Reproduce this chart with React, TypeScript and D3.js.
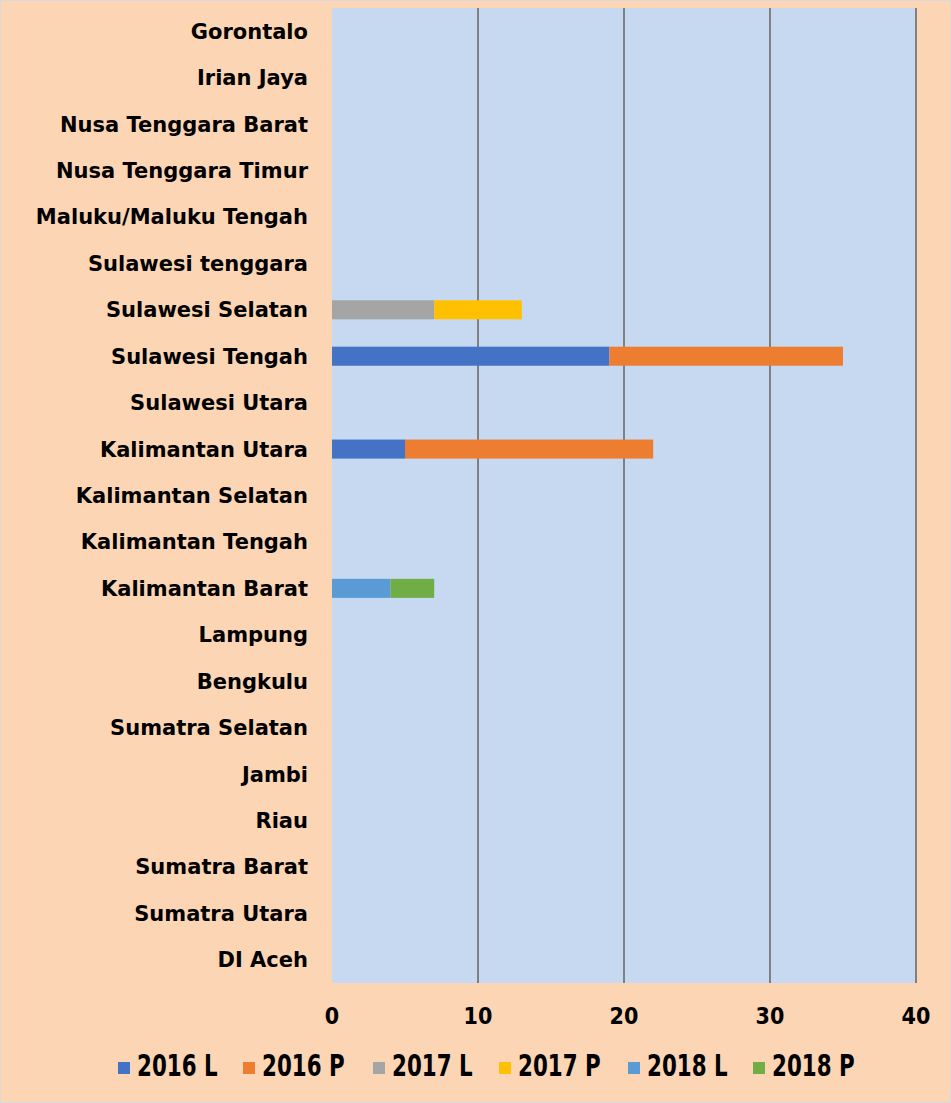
import React, { useEffect, useRef } from 'react';
import * as d3 from 'd3';

const provinces = [
  'Gorontalo', 'Irian Jaya', 'Nusa Tenggara Barat', 'Nusa Tenggara Timur',
  'Maluku/Maluku Tengah', 'Sulawesi tenggara', 'Sulawesi Selatan', 'Sulawesi Tengah',
  'Sulawesi Utara', 'Kalimantan Utara', 'Kalimantan Selatan', 'Kalimantan Tengah',
  'Kalimantan Barat', 'Lampung', 'Bengkulu', 'Sumatra Selatan', 'Jambi', 'Riau',
  'Sumatra Barat', 'Sumatra Utara', 'DI Aceh',
];

const seriesNames = ['2016 L', '2016 P', '2017 L', '2017 P', '2018 L', '2018 P'];
const seriesColors = ['#4472C4', '#ED7D31', '#A5A5A5', '#FFC000', '#5B9BD5', '#70AD47'];

const v2016L = [0, 0, 0, 0, 0, 0, 0, 19, 0, 5, 0, 0, 0, 0, 0, 0, 0, 0, 0, 0, 0];
const v2016P = [0, 0, 0, 0, 0, 0, 0, 16, 0, 17, 0, 0, 0, 0, 0, 0, 0, 0, 0, 0, 0];
const v2017L = [0, 0, 0, 0, 0, 0, 7, 0, 0, 0, 0, 0, 0, 0, 0, 0, 0, 0, 0, 0, 0];
const v2017P = [0, 0, 0, 0, 0, 0, 6, 0, 0, 0, 0, 0, 0, 0, 0, 0, 0, 0, 0, 0, 0];
const v2018L = [0, 0, 0, 0, 0, 0, 0, 0, 0, 0, 0, 0, 4, 0, 0, 0, 0, 0, 0, 0, 0];
const v2018P = [0, 0, 0, 0, 0, 0, 0, 0, 0, 0, 0, 0, 3, 0, 0, 0, 0, 0, 0, 0, 0];

const xTicks = [0, 10, 20, 30, 40];

const W = 951;
const H = 1103;
const FONT = '"DejaVu Sans", Verdana, sans-serif';

export default function App() {
  const svgRef = useRef<SVGSVGElement>(null);

  useEffect(() => {
    document.body.style.margin = '0';
    const svg = d3.select(svgRef.current);
    svg.selectAll('*').remove();

    const margin = { top: 8, right: 35, bottom: 120, left: 332 };
    const allValues = [v2016L, v2016P, v2017L, v2017P, v2018L, v2018P];
    const rows = provinces.map((p, i) => {
      const r: any = { province: p };
      seriesNames.forEach((s, j) => { r[s] = allValues[j][i]; });
      return r;
    });

    const x = d3.scaleLinear().domain([0, 40]).range([margin.left, W - margin.right]);
    const y = d3.scaleBand().domain(provinces).range([margin.top, H - margin.bottom]).paddingInner(0.59).paddingOuter(0.295);
    const color = d3.scaleOrdinal<string, string>().domain(seriesNames).range(seriesColors);

    svg.append('rect').attr('width', W).attr('height', H).attr('fill', '#FCD5B4');
    svg.append('rect').attr('x', 0.5).attr('y', 0.5).attr('width', W - 1).attr('height', H - 1)
      .attr('fill', 'none').attr('stroke', '#d9d9d9');

    svg.append('rect')
      .attr('x', x(0)).attr('y', margin.top)
      .attr('width', x(40) - x(0)).attr('height', H - margin.bottom - margin.top)
      .attr('fill', '#C6D9F1');

    // gridlines
    svg.append('g').selectAll('line')
      .data(xTicks.filter(t => t > 0))
      .enter().append('line')
      .attr('x1', d => x(d)).attr('x2', d => x(d))
      .attr('y1', margin.top).attr('y2', H - margin.bottom)
      .attr('stroke', '#808080').attr('stroke-width', 2);

    const stacked = d3.stack().keys(seriesNames)(rows);
    svg.append('g').selectAll('g')
      .data(stacked)
      .enter().append('g')
      .attr('fill', d => color(d.key))
      .selectAll('rect')
      .data(d => d.filter(p => p[1] - p[0] > 0))
      .enter().append('rect')
      .attr('x', d => x(d[0]))
      .attr('width', d => x(d[1]) - x(d[0]))
      .attr('y', d => y((d.data as any).province)!)
      .attr('height', y.bandwidth());

    // category labels
    svg.append('g').selectAll('text')
      .data(provinces)
      .enter().append('text')
      .attr('x', 308)
      .attr('y', d => y(d)! + y.bandwidth() / 2)
      .attr('dy', '0.36em')
      .attr('text-anchor', 'end')
      .attr('font-family', FONT).attr('font-weight', 'bold').attr('font-size', 21)
      .attr('fill', '#000')
      .text(d => d);

    // x tick labels
    svg.append('g').selectAll('text')
      .data(xTicks)
      .enter().append('text')
      .attr('transform', d => `translate(${x(d)},1024) scale(0.9,1)`)
      .attr('text-anchor', 'middle')
      .attr('font-family', FONT).attr('font-weight', 'bold').attr('font-size', 23)
      .attr('fill', '#000')
      .text(d => d);

    // legend
    const legendX = [118, 243, 373, 499, 628, 753];
    const lg = svg.append('g').selectAll('g')
      .data(seriesNames)
      .enter().append('g')
      .attr('transform', (d, i) => `translate(${legendX[i]},1062)`);
    lg.append('rect').attr('width', 12).attr('height', 12).attr('fill', d => color(d));
    lg.append('text')
      .attr('transform', 'translate(19,14) scale(0.69,1)')
      .attr('font-family', FONT).attr('font-weight', 'bold').attr('font-size', 31)
      .attr('fill', '#000')
      .text(d => d);
  }, []);

  return <svg ref={svgRef} width={W} height={H} style={{ display: 'block' }} />;
}
